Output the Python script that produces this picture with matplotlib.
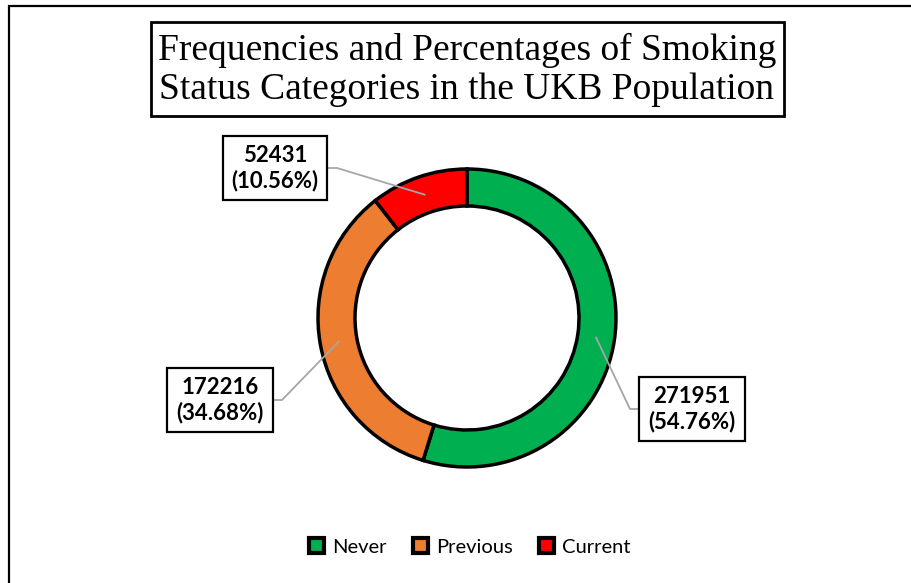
import matplotlib.pyplot as plt
import numpy as np
from matplotlib.patches import Patch, Rectangle

# smoking status counts
categories = ["Never", "Previous", "Current"]
counts = [271951, 172216, 52431]
percents = [54.76, 34.68, 10.56]
colors = ["#00B050", "#ED7D31", "#FF0000"]

W, H = 912, 583
fig = plt.figure(figsize=(W / 100, H / 100), dpi=100)
ax = fig.add_axes([0, 0, 1, 1])

# outer chart frame
fig.patches.append(Rectangle((9.5 / W, -0.1), 1.2, 1.1 - 6.5 / H, transform=fig.transFigure,
                             fill=False, edgecolor="black", linewidth=1.6))

cx, cy = 467, H - 318
r_out, ring = 149, 37
ax.pie(counts, colors=colors, startangle=90, counterclock=False, radius=r_out,
       center=(cx, cy), wedgeprops=dict(width=ring, edgecolor="black", linewidth=2.5),
       frame=True)
ax.set_xlim(0, W)
ax.set_ylim(0, H)
ax.set_aspect("equal")
ax.axis("off")

# title with its box
ax.add_patch(Rectangle((151, H - 116), 633, 94, facecolor="white", edgecolor="black", linewidth=2))
ax.text(cx, H - 70, "Frequencies and Percentages of Smoking\nStatus Categories in the UKB Population",
        ha="center", va="center", fontsize=27, family="Liberation Serif", linespacing=1.2)

# data labels with elbow leader lines
label_pos = [(692, 409, -1), (220, 400, 1), (275, 168, 1)]
box_half = 52
total = sum(counts)
start = 90.0
for i, (n, p) in enumerate(zip(counts, percents)):
    sweep = n / total * 360
    mid = np.radians(start - sweep / 2)
    start -= sweep
    r_mid = r_out - ring / 2
    axp, ayp = cx + r_mid * np.cos(mid), cy + r_mid * np.sin(mid)
    lx, ly, side = label_pos[i]
    ly = H - ly
    ex = lx + side * box_half
    ax.plot([ex, ex + side * 10, axp], [ly, ly, ayp], color="#A6A6A6", lw=1.3, zorder=3)
    ax.text(lx, ly, f"{n}\n({p:.2f}%)", ha="center", va="center", fontsize=16,
            family="Lato", fontweight="bold", linespacing=1.2, zorder=4,
            bbox=dict(boxstyle="square,pad=0.4", facecolor="white", edgecolor="black", linewidth=1.6))

handles = [Patch(facecolor=c, edgecolor="black", linewidth=3) for c in colors]
leg = ax.legend(handles, categories, loc="center", bbox_to_anchor=(470 / W, 1 - 547 / H),
                ncol=3, frameon=False, prop=dict(family="Lato", size=14.5),
                handlelength=0.75, handleheight=0.75, handletextpad=0.4, columnspacing=1.3)

fig.savefig("out.png", dpi=100)
